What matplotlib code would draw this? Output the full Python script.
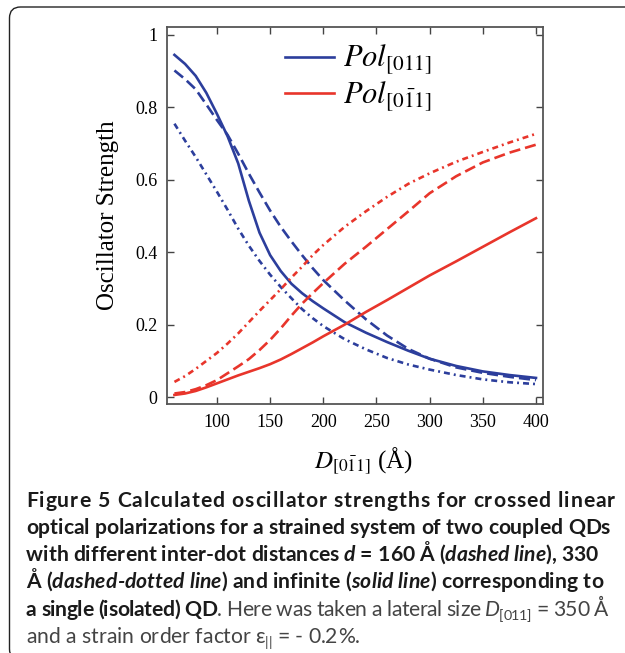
import matplotlib
matplotlib.use('Agg')
import matplotlib.pyplot as plt
from matplotlib.lines import Line2D
from matplotlib.patches import FancyBboxPatch
from matplotlib.transforms import IdentityTransform

plt.rcParams['font.family'] = ['Liberation Serif', 'DejaVu Serif']
plt.rcParams['mathtext.fontset'] = 'stix'
plt.rcParams['lines.scale_dashes'] = False

# lateral size D_[0-11] in Angstrom
D = [60, 70, 80, 90, 100, 110, 120, 130, 140, 150, 160, 170, 180, 190, 200, 220, 240, 260, 280, 300, 325, 350,
     375, 400]

# Pol[011] (blue)
blue_single = [0.945, 0.920, 0.887, 0.840, 0.782, 0.720, 0.645, 0.542, 0.454, 0.392, 0.348, 0.313, 0.287, 0.265,
               0.245, 0.207, 0.178, 0.152, 0.128, 0.106, 0.086, 0.071, 0.061, 0.053]
blue_d160 = [0.902, 0.878, 0.850, 0.808, 0.765, 0.724, 0.672, 0.617, 0.565, 0.515, 0.470, 0.430, 0.392, 0.356,
             0.323, 0.267, 0.215, 0.170, 0.133, 0.106, 0.082, 0.067, 0.056, 0.047]
blue_d330 = [0.755, 0.708, 0.663, 0.615, 0.567, 0.517, 0.465, 0.418, 0.376, 0.338, 0.304, 0.273, 0.243, 0.218,
             0.196, 0.160, 0.132, 0.108, 0.090, 0.076, 0.061, 0.049, 0.041, 0.036]

# Pol[0-11] (red)
red_single = [0.006, 0.010, 0.017, 0.027, 0.038, 0.049, 0.060, 0.070, 0.080, 0.091, 0.104, 0.119, 0.135, 0.151,
              0.168, 0.200, 0.235, 0.268, 0.302, 0.336, 0.375, 0.415, 0.455, 0.494]
red_d160 = [0.010, 0.014, 0.022, 0.033, 0.047, 0.066, 0.085, 0.105, 0.130, 0.158, 0.190, 0.225, 0.258, 0.287,
            0.315, 0.368, 0.415, 0.464, 0.513, 0.563, 0.610, 0.648, 0.675, 0.697]
red_d330 = [0.042, 0.058, 0.078, 0.100, 0.122, 0.148, 0.176, 0.207, 0.238, 0.268, 0.298, 0.330, 0.360, 0.392,
            0.420, 0.470, 0.513, 0.553, 0.589, 0.618, 0.650, 0.677, 0.703, 0.727]

xticks = [100, 150, 200, 250, 300, 350, 400]
yticks = [0, 0.2, 0.4, 0.6, 0.8, 1]
ytick_labels = ['0', '0.2', '0.4', '0.6', '0.8', '1']
legend_labels = [r'$Pol_{[011]}$', r'$Pol_{[0\bar{1}1]}$']

caption = [
    [('Figure 5 Calculated oscillator strengths for crossed linear', 'b')],
    [('optical polarizations for a strained system of two coupled QDs', 'b')],
    [('with different inter-dot distances ', 'b'), ('d', 'bi'), (' = 160 Å (', 'b'), ('dashed line', 'bi'),
     ('), 330', 'b')],
    [('Å (', 'b'), ('dashed-dotted line', 'bi'), (') and infinite (', 'b'), ('solid line', 'bi'),
     (') corresponding to', 'b')],
    [('a single (isolated) QD', 'b'), ('. Here was taken a lateral size ', 'r'), ('D', 'i'), ('[011]', 'sub'),
     (' = 350 Å', 'r')],
    [('and a strain order factor ', 'r'), ('ε', 'r'), ('||', 'sub'), (' = - 0.2%.', 'r')],
]
# right edge of each caption line in the reference (None = ragged last line)
caption_right = [615, 610, 598, 603, 608, None]

BLUE = '#2c3e9c'
RED = '#e8352b'
SOLID = '-'
DASHED = (0, (8, 3.6))
DASHDOT = (0, (4.3, 2.9, 1.4, 2.9))

W, H = 625, 653
fig = plt.figure(figsize=(W / 100, H / 100), dpi=100)

# rounded frame round the figure
frame = FancyBboxPatch((9.5, -7), 700, 653, boxstyle='round,pad=0,rounding_size=11',
                       transform=IdentityTransform(), fill=False, edgecolor='#222222', linewidth=1.0)
fig.patches.append(frame)

ax = fig.add_axes([167 / W, 1 - 404 / H, (543 - 167) / W, (404 - 27) / H])

for ys, ls in [(blue_single, SOLID), (blue_d160, DASHED), (blue_d330, DASHDOT)]:
    ax.plot(D, ys, color=BLUE, lw=1.9, linestyle=ls)
for ys, ls in [(red_single, SOLID), (red_d160, DASHED), (red_d330, DASHDOT)]:
    ax.plot(D, ys, color=RED, lw=1.9, linestyle=ls)

ax.set_xlim(53, 406.6)
ax.set_ylim(-0.019, 1.022)
ax.set_xticks(xticks)
ax.set_yticks(yticks)
ax.set_yticklabels(ytick_labels)
ax.tick_params(direction='in', length=5, width=1, top=True, right=True, labelsize=13, pad=7, color='#444444')
for s in ax.spines.values():
    s.set_color('#555555')
    s.set_linewidth(1.3)

ax.set_ylabel('Oscillator Strength', fontsize=18)
ax.yaxis.set_label_coords(-0.128, 0.5)
ax.set_xlabel(r'$D_{[0\bar{1}1]}$ (Å)', fontsize=18)
ax.xaxis.set_label_coords(0.524, -0.112)

handles = [Line2D([], [], color=BLUE, lw=1.9), Line2D([], [], color=RED, lw=1.9)]
ax.legend(handles, legend_labels, loc='upper left', bbox_to_anchor=((285 - 167) / 376, (404 - 43) / 377),
          frameon=False, fontsize=22, handlelength=1.6, handletextpad=0.3, labelspacing=0.08,
          borderpad=0, borderaxespad=0)

# caption, laid out glyph by glyph so the lines can be justified with tracking
CAP_FONT = ['Lato', 'DejaVu Sans']
CAP_STYLE = {
    'b': dict(fontweight='bold', fontstyle='normal', color='#1a1a1a'),
    'bi': dict(fontweight='bold', fontstyle='italic', color='#1a1a1a'),
    'r': dict(fontweight='normal', fontstyle='normal', color='#444444'),
    'i': dict(fontweight='normal', fontstyle='italic', color='#444444'),
    'sub': dict(fontweight='normal', fontstyle='normal', color='#444444', scale=0.68, dy=-4),
}
renderer = fig.canvas.get_renderer()
_adv_cache = {}


def put(x, yb, text, key, size):
    st = dict(CAP_STYLE[key])
    scale = st.pop('scale', 1.0)
    dy = st.pop('dy', 0)
    return fig.text(x, H - yb + dy, text, transform=IdentityTransform(), fontsize=size * scale,
                    family=CAP_FONT, ha='left', va='baseline', **st)


def advance(text, key, size):
    ck = (text, key, round(size, 4))
    if ck not in _adv_cache:
        a = put(0, 0, '|' + text + '|', key, size)
        b = put(0, 0, '||', key, size)
        _adv_cache[ck] = a.get_window_extent(renderer).width - b.get_window_extent(renderer).width
        a.remove()
        b.remove()
    return _adv_cache[ck]


def split_words(runs):
    words = [[]]
    for text, key in runs:
        for j, part in enumerate(text.split(' ')):
            if j > 0:
                words.append([])
            if part:
                words[-1].append((part, key))
    return [w for w in words if w]


def natural_width(words, size):
    total = sum(advance(p, k, size) for w in words for p, k in w)
    total += sum(advance(' ', w[0][1], size) for w in words[1:])
    return total


def draw_line(runs, x0, yb, size, right=None):
    words = split_words(runs)
    extra = 0.0
    if right is not None and len(words) > 1:
        n_chars = sum(len(p) for w in words for p, k in w)
        n_gaps = (n_chars - len(words)) + 2 * (len(words) - 1)
        extra = (right - x0 - natural_width(words, size)) / n_gaps
    x = x0
    for i, w in enumerate(words):
        if i > 0:
            x += advance(' ', w[0][1], size) + 2 * extra
        first = True
        for p, k in w:
            for ch in p:
                if not first:
                    x += extra
                first = False
                put(x, yb, ch, k, size)
                x += advance(ch, k, size)


base = 13.0
cap_size = base * (610 - 26) / natural_width(split_words(caption[1]), base)
baselines = [507, 534, 561, 588, 616, 643]
for runs, yb, right in zip(caption, baselines, caption_right):
    draw_line(runs, 26, yb, cap_size, right)

fig.savefig('out.png', dpi=100)
